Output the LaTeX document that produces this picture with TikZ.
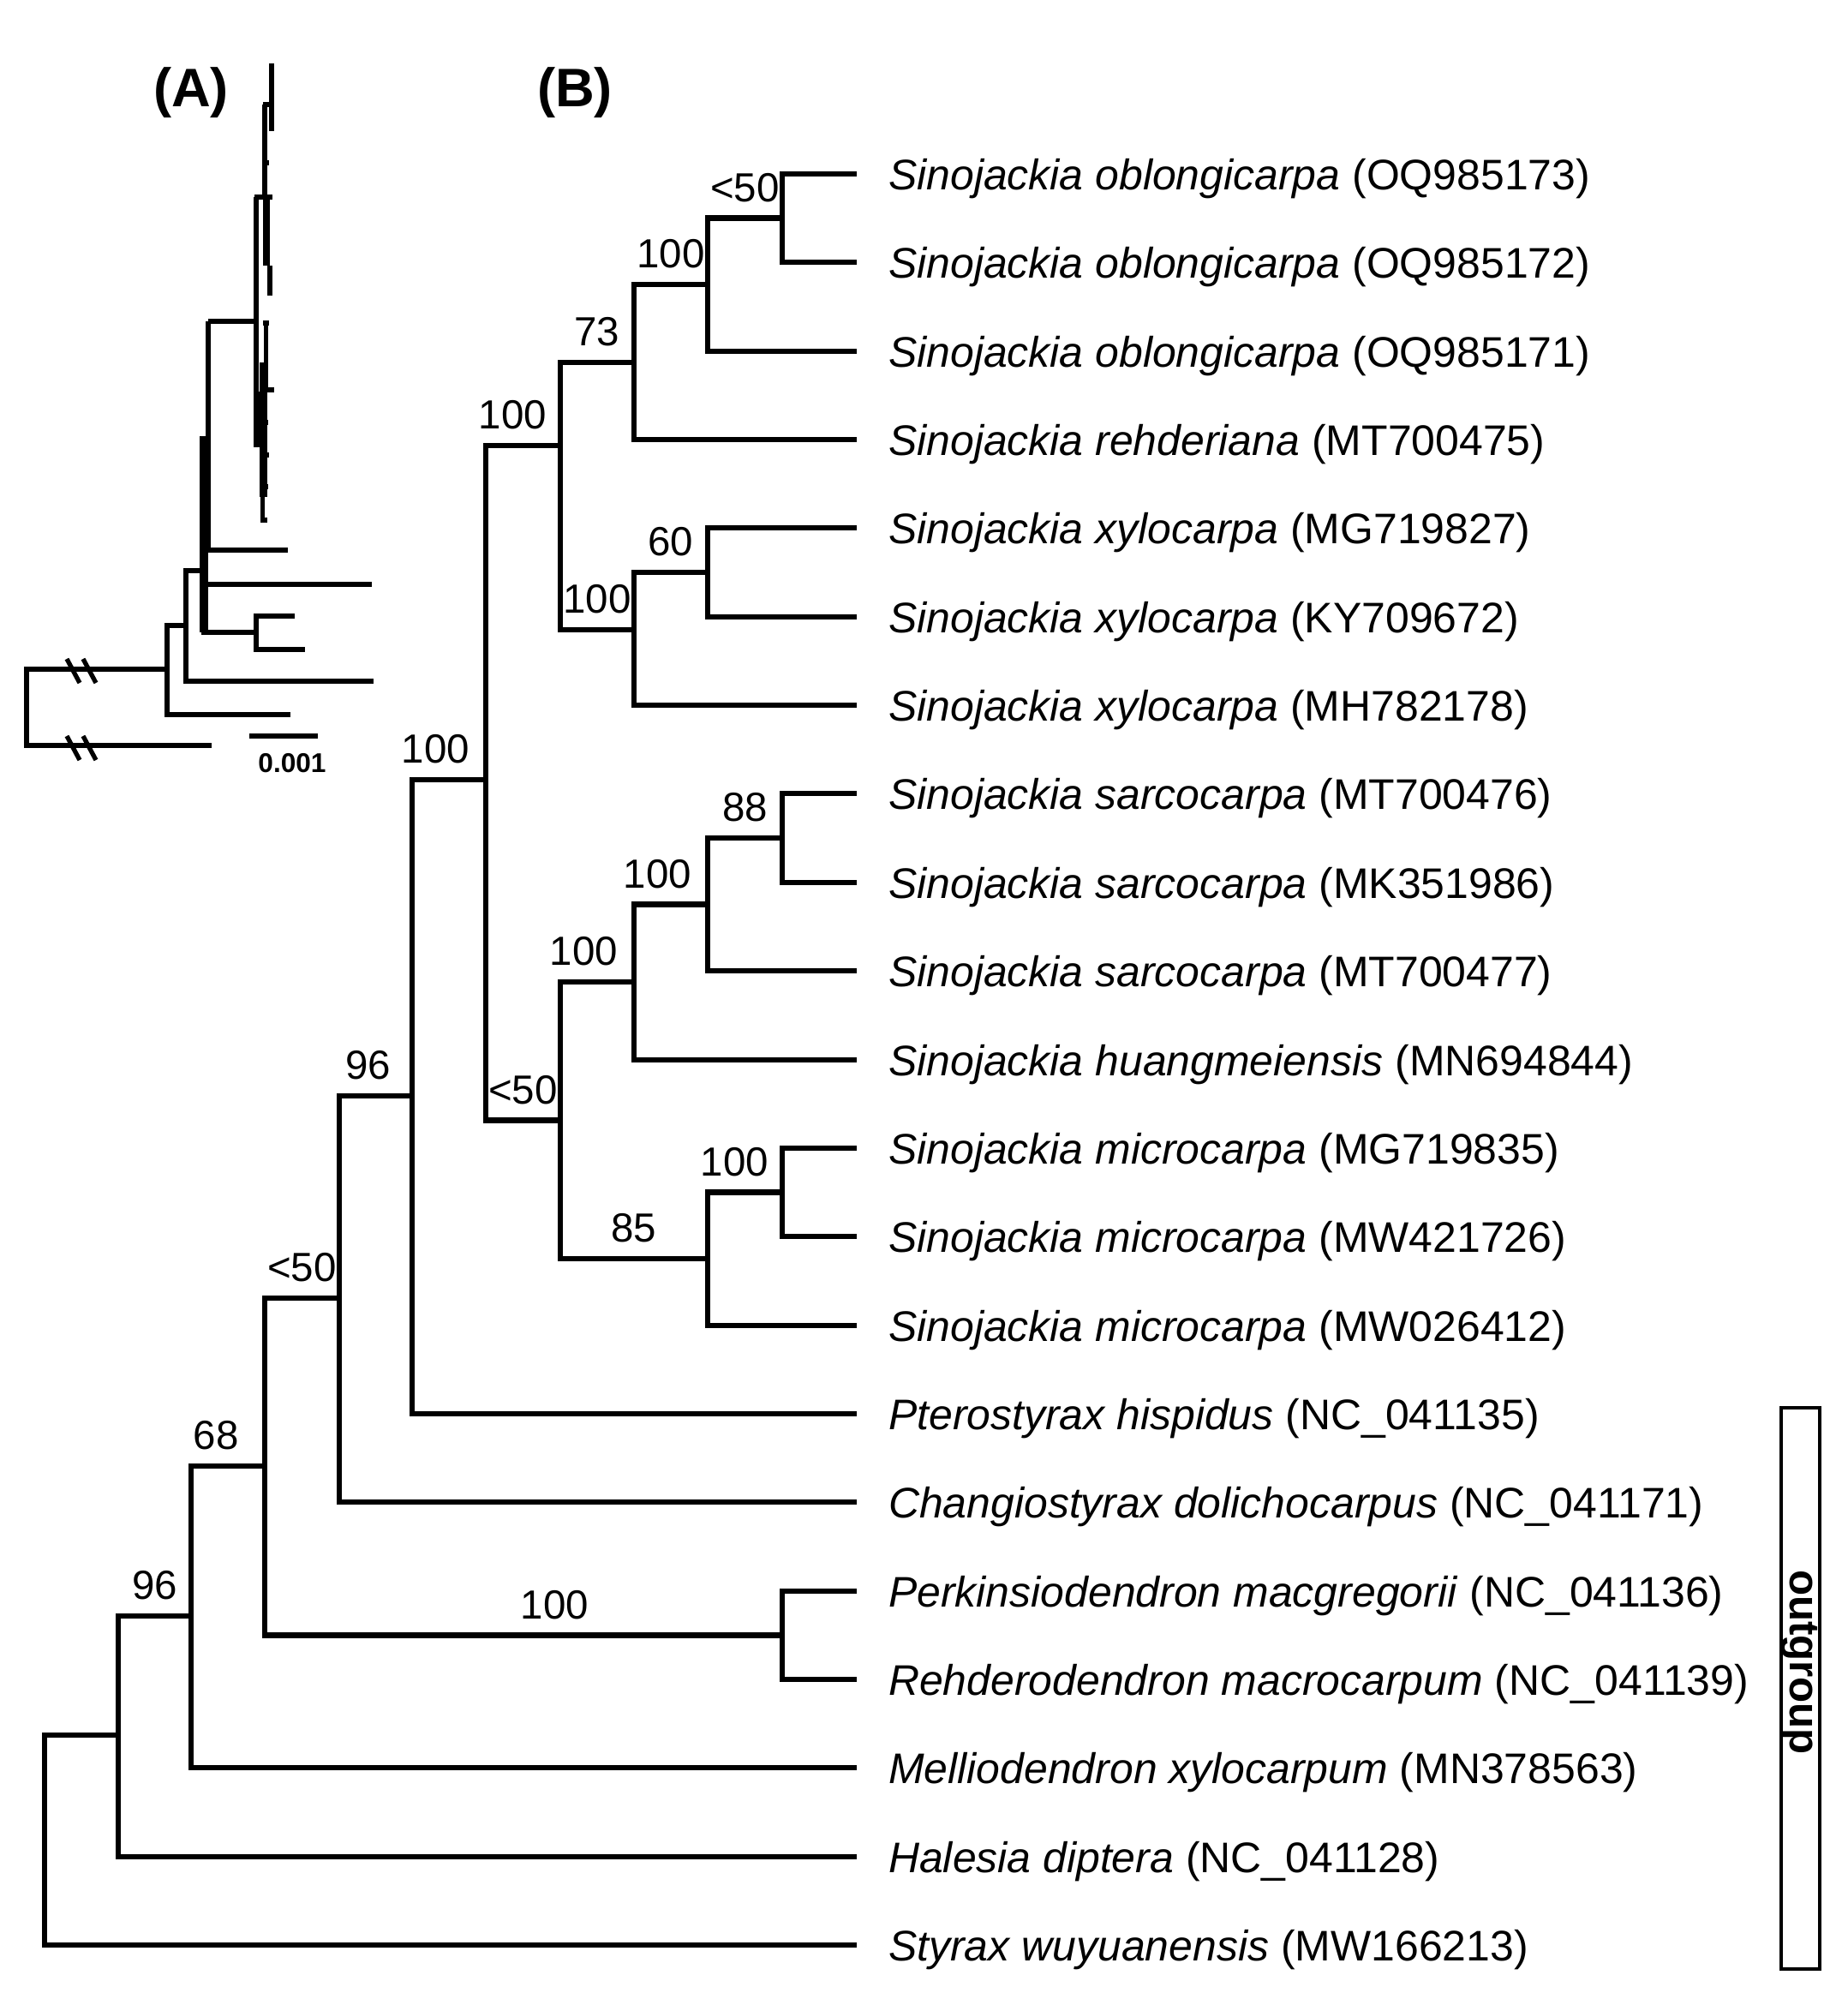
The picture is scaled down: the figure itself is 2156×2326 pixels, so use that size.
\documentclass[tikz,border=0pt]{standalone}
\usepackage{fontspec}
\setmainfont{Liberation Sans}

\begin{document}
\begin{tikzpicture}[x=0.01cm,y=-0.01cm,line width=1.8pt]
\tikzstyle{every node}=[inner sep=0pt]
\tikzstyle{leaf}=[anchor=base west,yshift=-0.18cm,font=\fontsize{14.2}{17}\selectfont]
\tikzstyle{bs}=[above=4.5pt,pos=.75,font=\fontsize{13.5}{16}\selectfont]
\tikzstyle{elbow}=[to path={|- (\tikztotarget) \tikztonodes}]
\tikzstyle{panel}=[font=\bfseries\fontsize{18}{20}\selectfont]
\useasboundingbox (0,0) rectangle (2156,2326);

\node[panel] (pa) at (223,108) {(A)};
\node[panel] (pb) at (671,108) {(B)};

% branch tips
\coordinate (t1) at (1000,203);
\coordinate (t2) at (1000,306);
\coordinate (t3) at (1000,410);
\coordinate (t4) at (1000,513);
\coordinate (t5) at (1000,616);
\coordinate (t6) at (1000,720);
\coordinate (t7) at (1000,823);
\coordinate (t8) at (1000,926);
\coordinate (t9) at (1000,1030);
\coordinate (t10) at (1000,1133);
\coordinate (t11) at (1000,1237);
\coordinate (t12) at (1000,1340);
\coordinate (t13) at (1000,1443);
\coordinate (t14) at (1000,1547);
\coordinate (t15) at (1000,1650);
\coordinate (t16) at (1000,1753);
\coordinate (t17) at (1000,1857);
\coordinate (t18) at (1000,1960);
\coordinate (t19) at (1000,2063);
\coordinate (t20) at (1000,2167);
\coordinate (t21) at (1000,2270);

% taxa
\node[leaf] (ob73) at (1034,203) {\textit{Sinojackia oblongicarpa} (OQ985173)};
\node[leaf] (ob72) at (1034,306) {\textit{Sinojackia oblongicarpa} (OQ985172)};
\node[leaf] (ob71) at (1034,410) {\textit{Sinojackia oblongicarpa} (OQ985171)};
\node[leaf] (reh) at (1034,513) {\textit{Sinojackia rehderiana} (MT700475)};
\node[leaf] (xy27) at (1034,616) {\textit{Sinojackia xylocarpa} (MG719827)};
\node[leaf] (xy72) at (1034,720) {\textit{Sinojackia xylocarpa} (KY709672)};
\node[leaf] (xy78) at (1034,823) {\textit{Sinojackia xylocarpa} (MH782178)};
\node[leaf] (sa76) at (1034,926) {\textit{Sinojackia sarcocarpa} (MT700476)};
\node[leaf] (sa86) at (1034,1030) {\textit{Sinojackia sarcocarpa} (MK351986)};
\node[leaf] (sa77) at (1034,1133) {\textit{Sinojackia sarcocarpa} (MT700477)};
\node[leaf] (hua) at (1034,1237) {\textit{Sinojackia huangmeiensis} (MN694844)};
\node[leaf] (mi35) at (1034,1340) {\textit{Sinojackia microcarpa} (MG719835)};
\node[leaf] (mi26) at (1034,1443) {\textit{Sinojackia microcarpa} (MW421726)};
\node[leaf] (mi12) at (1034,1547) {\textit{Sinojackia microcarpa} (MW026412)};
\node[leaf] (pte) at (1034,1650) {\textit{Pterostyrax hispidus} (NC\_041135)};
\node[leaf] (cha) at (1034,1753) {\textit{Changiostyrax dolichocarpus} (NC\_041171)};
\node[leaf] (per) at (1034,1857) {\textit{Perkinsiodendron macgregorii} (NC\_041136)};
\node[leaf] (rhd) at (1034,1960) {\textit{Rehderodendron macrocarpum} (NC\_041139)};
\node[leaf] (mel) at (1034,2063) {\textit{Melliodendron xylocarpum} (MN378563)};
\node[leaf] (hal) at (1034,2167) {\textit{Halesia diptera} (NC\_041128)};
\node[leaf] (sty) at (1034,2270) {\textit{Styrax wuyuanensis} (MW166213)};

% internal nodes
\coordinate (ob12) at (913,254.5);
\coordinate (ob123) at (826,332);
\coordinate (ob) at (740,423);
\coordinate (xy12) at (826,668);
\coordinate (xy) at (740,735);
\coordinate (north) at (654,520);
\coordinate (sa12) at (913,978);
\coordinate (sa123) at (826,1055.5);
\coordinate (sa) at (740,1146);
\coordinate (mic12) at (913,1391.5);
\coordinate (mic) at (826,1469);
\coordinate (south) at (654,1307.5);
\coordinate (sino) at (567,910);
\coordinate (pter) at (481,1279);
\coordinate (chan) at (396,1515);
\coordinate (perk) at (913,1908.5);
\coordinate (inner) at (309,1711);
\coordinate (mell) at (223,1886);
\coordinate (hale) at (138,2025);
\coordinate (root) at (52,2149);

\path[draw] (ob12) edge[elbow] (t1) edge[elbow] (t2);
\path[draw] (ob123) edge[elbow] node[bs]{\textless50} (ob12) edge[elbow] (t3);
\path[draw] (ob) edge[elbow] node[bs]{100} (ob123) edge[elbow] (t4);
\path[draw] (xy12) edge[elbow] (t5) edge[elbow] (t6);
\path[draw] (xy) edge[elbow] node[bs]{60} (xy12) edge[elbow] (t7);
\path[draw] (north) edge[elbow] node[bs]{73} (ob) edge[elbow] node[bs]{100} (xy);
\path[draw] (sa12) edge[elbow] (t8) edge[elbow] (t9);
\path[draw] (sa123) edge[elbow] node[bs]{88} (sa12) edge[elbow] (t10);
\path[draw] (sa) edge[elbow] node[bs,pos=.66]{100} (sa123) edge[elbow] (t11);
\path[draw] (mic12) edge[elbow] (t12) edge[elbow] (t13);
\path[draw] (mic) edge[elbow] node[bs,pos=.68]{100} (mic12) edge[elbow] (t14);
\path[draw] (south) edge[elbow] node[bs,pos=.66]{100} (sa) edge[elbow] node[bs]{85} (mic);
\path[draw] (sino) edge[elbow] node[bs,pos=.68]{100} (north) edge[elbow] node[bs]{\textless50} (south);
\path[draw] (pter) edge[elbow] node[bs,pos=.66]{100} (sino) edge[elbow] (t15);
\path[draw] (chan) edge[elbow] node[bs,pos=.7]{96} (pter) edge[elbow] (t16);
\path[draw] (perk) edge[elbow] (t17) edge[elbow] (t18);
\path[draw] (inner) edge[elbow] node[bs]{\textless50} (chan) edge[elbow] node[bs,pos=.78]{100} (perk);
\path[draw] (mell) edge[elbow] node[bs,pos=.67]{68} (inner) edge[elbow] (t19);
\path[draw] (hale) edge[elbow] node[bs]{96} (mell) edge[elbow] (t20);
\path[draw] (root) edge[elbow] (hale) edge[elbow] (t21);

% outgroup bar
\node[draw,line width=1.1pt,minimum width=0.45cm,minimum height=6.55cm] (outbox) at (2101.5,1970.5) {};
\node[rotate=-90,font=\bfseries\fontsize{14}{16}\selectfont] (outlbl) at (2100,1940) {outgroup};

% panel A, small tree
\begin{scope}[line width=1.5pt]
\draw (317,74) -- (317,153);
\draw (307,122) -- (317,122);
\draw (309,122) -- (309,227);
\draw (309,190) -- (314,190);
\draw (297,230) -- (318,230);
\draw (299,230) -- (299,522);
\fill (306.7,227) rectangle (315,310);
\draw (315,310) -- (315,342) (312,342) -- (318,342);
\draw (243,375) -- (299,375);
\draw (310.7,377) -- (310.7,455) (307,377) -- (314,377);
\draw (303,455) -- (320,455);
\fill (303,423) rectangle (312,580);
\fill (299,457) rectangle (306,522);
\draw (303,493) -- (313,493) (303,531) -- (314,531) (303,568) -- (313,568);
\draw (306.7,580) -- (306.7,607) (304,607) -- (312,607);
\draw (243,375) -- (243,642) -- (336,642);
\draw[line width=2.6pt] (238,509) -- (238,738);
\draw (238,682) -- (434,682);
\draw (235,738) -- (299,738);
\draw (344,719) -| (299,758) -- (356,758);
\draw (238,666) -| (217,795) -- (436,795);
\draw (217,730) -| (195,834) -- (339,834);
\draw (195,781) -| (31,870) -- (247,870);
\draw (78,769) -- (93,797) (97,769) -- (112,797);
\draw (78,859) -- (93,887) (97,859) -- (112,887);
\draw (291,859) -- (371,859);
\node[font=\bfseries\fontsize{9}{10}\selectfont] (scl) at (341,891) {0.001};
\end{scope}

%\draw[black!10,step=100] (0,0) grid (2156,2326);
\end{tikzpicture}
\end{document}
